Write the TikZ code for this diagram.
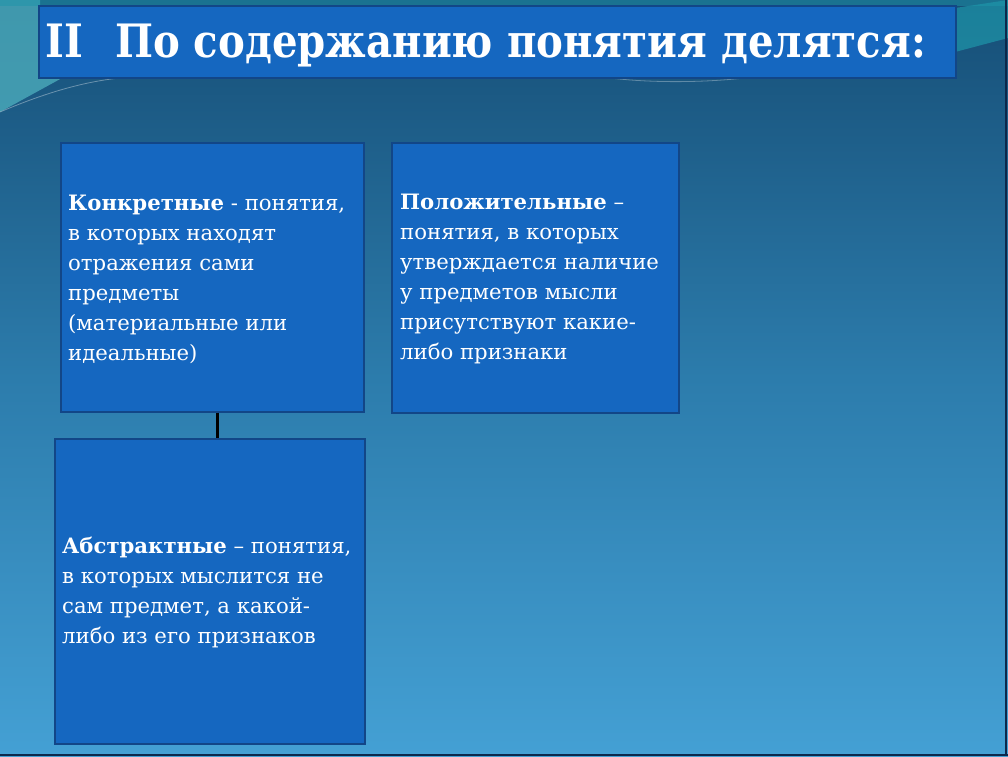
\documentclass[tikz,border=0pt]{standalone}
\usepackage{fontspec}
\setmainfont{DejaVu Serif}
\newfontfamily\titlefont{DejaVu Serif}
\definecolor{bgtop}{RGB}{22,78,118}
\definecolor{bgmid}{RGB}{44,124,172}
\definecolor{bgbot}{RGB}{68,160,212}
\definecolor{boxfill}{RGB}{21,103,192}
\definecolor{boxedge}{RGB}{18,70,135}
\definecolor{teal}{RGB}{30,150,170}
\definecolor{framec}{RGB}{12,40,75}
\begin{document}
\begin{tikzpicture}[x=1pt,y=-1pt,
  panel/.style={draw=boxedge, line width=1.5pt, fill=boxfill, rectangle, inner sep=0pt},
  bodytext/.style={text=white, align=left, inner sep=0pt, anchor=west,
    font=\fontsize{21.2}{30}\selectfont},
  titlebox/.style={draw=boxedge, line width=1.5pt, fill=boxfill, rectangle, inner sep=0pt},
  link/.style={line width=3pt, black}]
\useasboundingbox (0,0) rectangle (1008,756);
% background
\shade[top color=bgtop, bottom color=bgbot, middle color=bgmid] (0,0) rectangle (1008,756);
\fill[teal!80!white, opacity=0.8] (0,0) -- (40,0) -- (40,78) -- (62,78) -- (0,112) -- cycle;
\fill[teal, opacity=0.5] (0,0) -- (1008,0) -- (1008,6) -- (0,6) -- cycle;
\fill[teal, opacity=0.7] (955,8) -- (1008,0) -- (1008,38) -- (955,52) -- cycle;
\draw[white, opacity=0.35, line width=0.8pt] (0,112) .. controls (40,95) and (80,82) .. (120,78);
\draw[white, opacity=0.3, line width=0.8pt] (610,78) .. controls (660,84) and (720,82) .. (760,76);
\draw[framec, line width=2pt] (1006,0) -- (1006,756);
\draw[framec, line width=2pt] (0,755) -- (1008,755);
% title
\node[titlebox, minimum width=917pt, minimum height=72pt, anchor=north west] (title) at (38,5) {};
\node[text=white, anchor=base west, inner sep=0pt, font=\titlefont\bfseries\fontsize{46}{50}\selectfont]
  (titletext) at (45,57) {\scalebox{0.875}[1]{II\hspace{0.8em}По содержанию понятия делятся:}};
% boxes
\node[panel, minimum width=303pt, minimum height=269pt, anchor=north west] (concrete) at (60,142) {};
\node[panel, minimum width=287pt, minimum height=270pt, anchor=north west] (positive) at (391,142) {};
\node[panel, minimum width=310pt, minimum height=305pt, anchor=north west] (abstract) at (54,438) {};
\node[bodytext] (concretetext) at ([xshift=8pt,yshift=-2pt]concrete.west)
  {\textbf{Конкретные} - понятия,\\в которых находят\\отражения сами\\предметы\\(материальные или\\идеальные)};
\node[bodytext] (positivetext) at ([xshift=9pt,yshift=-1.5pt]positive.west)
  {\textbf{Положительные} –\\понятия, в которых\\утверждается наличие\\у предметов мысли\\присутствуют какие-\\либо признаки};
\node[bodytext] (abstracttext) at ([xshift=8pt,yshift=-1pt]abstract.west)
  {\textbf{Абстрактные} – понятия,\\в которых мыслится не\\сам предмет, а какой-\\либо из его признаков};
% connector
\coordinate (linex) at (217,0);
\draw[link] (concrete.south -| linex) -- (abstract.north -| linex);
\end{tikzpicture}
\end{document}
